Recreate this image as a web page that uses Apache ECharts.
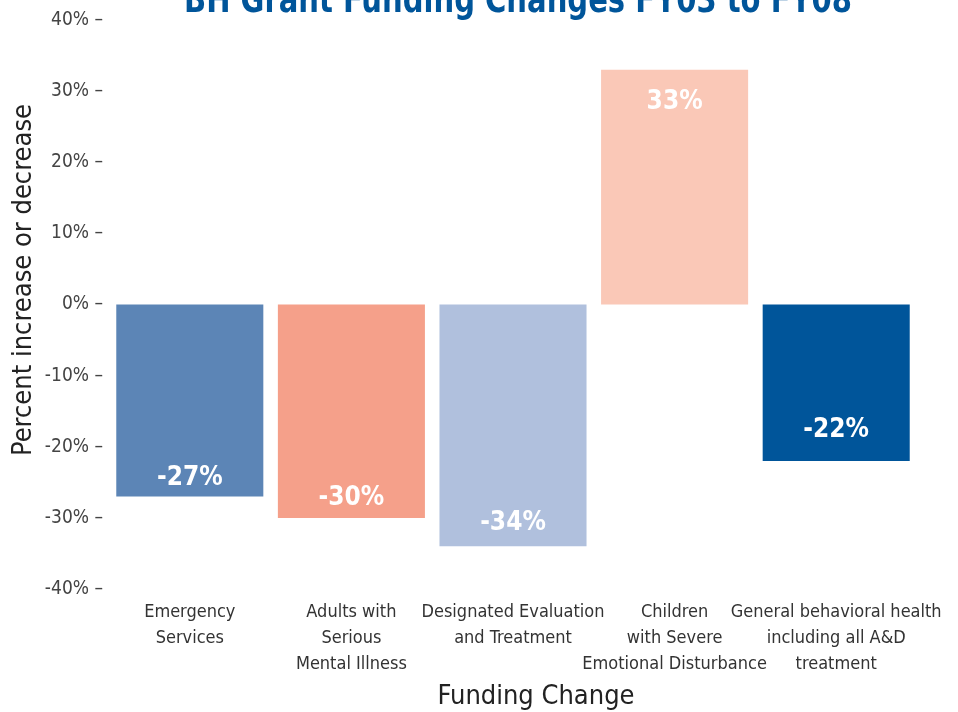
<!DOCTYPE html>
<html>
<head>
<meta charset="utf-8">
<script src="https://cdn.jsdelivr.net/npm/echarts@6/dist/echarts.min.js"></script>
<style>
  html, body { margin: 0; padding: 0; background: #fff; }
  #chart { width: 958px; height: 712px; }
</style>
</head>
<body>
<div id="chart"></div>
<script>
// Program categories and percent change in grant funding, FY03 to FY08
const categories = [
  'Emergency\nServices',
  'Adults with\nSerious\nMental Illness',
  'Designated Evaluation\nand Treatment',
  'Children\nwith Severe\nEmotional Disturbance',
  'General behavioral health\nincluding all A&D\ntreatment'
];
const changePct = [-27, -30, -34, 33, -22];
const barColors = ['#5c85b6', '#f5a08a', '#b0c0dd', '#fac8b7', '#00559a'];
const yTicks = [-40, -30, -20, -10, 0, 10, 20, 30, 40];

// spacing of each value label from the bar's far end
const labelGap = [5, 6.5, 10, 19, 17.5];

const FONT = '"Liberation Sans Narrow", "DejaVu Sans Condensed", "Liberation Sans", sans-serif';

const chart = echarts.init(document.getElementById('chart'));

const option = {
  animation: false,
  textStyle: { fontFamily: FONT },
  grid: { left: 109, right: 41, top: 20, bottom: 123, containLabel: false },
  xAxis: {
    type: 'category',
    data: categories,
    axisLine: { show: false },
    axisTick: { show: false },
    axisLabel: {
      interval: 0,
      margin: 10,
      fontSize: 18,
      lineHeight: 26,
      color: '#333',
      fontFamily: FONT
    }
  },
  yAxis: {
    type: 'value',
    min: yTicks[0],
    max: yTicks[yTicks.length - 1],
    interval: 10,
    splitLine: { show: false },
    axisLine: { show: false },
    axisTick: { show: false },
    axisLabel: {
      margin: 6,
      fontSize: 19,
      color: '#444',
      fontFamily: FONT,
      formatter: v => v + '% \u2013'
    }
  },
  graphic: [
    {
      // chart title, partly above the top edge
      type: 'text',
      x: 184, y: 21, scaleX: 0.85,
      style: {
        text: 'BH Grant Funding Changes FY03 to FY08',
        fontFamily: FONT, fontSize: 38, fontWeight: 'bold', fill: '#00559a',
        align: 'left', verticalAlign: 'bottom'
      }
    },
    {
      type: 'text',
      x: 24, y: 280, rotation: Math.PI / 2,
      style: {
        text: 'Percent increase or decrease',
        fontFamily: FONT, fontSize: 27, fill: '#222',
        align: 'center', verticalAlign: 'middle'
      }
    },
    {
      type: 'text',
      x: 536, y: 697,
      style: {
        text: 'Funding Change',
        fontFamily: FONT, fontSize: 27, fill: '#222',
        align: 'center', verticalAlign: 'middle'
      }
    }
  ],
  series: [{
    type: 'bar',
    barCategoryGap: '9%',
    data: changePct.map((v, i) => ({
      value: v,
      itemStyle: { color: barColors[i] },
      label: {
        position: v >= 0 ? 'insideTop' : 'insideBottom',
        distance: labelGap[i]
      }
    })),
    label: {
      show: true,
      color: '#fff',
      fontSize: 26,
      fontWeight: 'bold',
      fontFamily: FONT,
      formatter: p => p.value + '%'
    }
  }]
};

chart.setOption(option);
</script>
</body>
</html>
